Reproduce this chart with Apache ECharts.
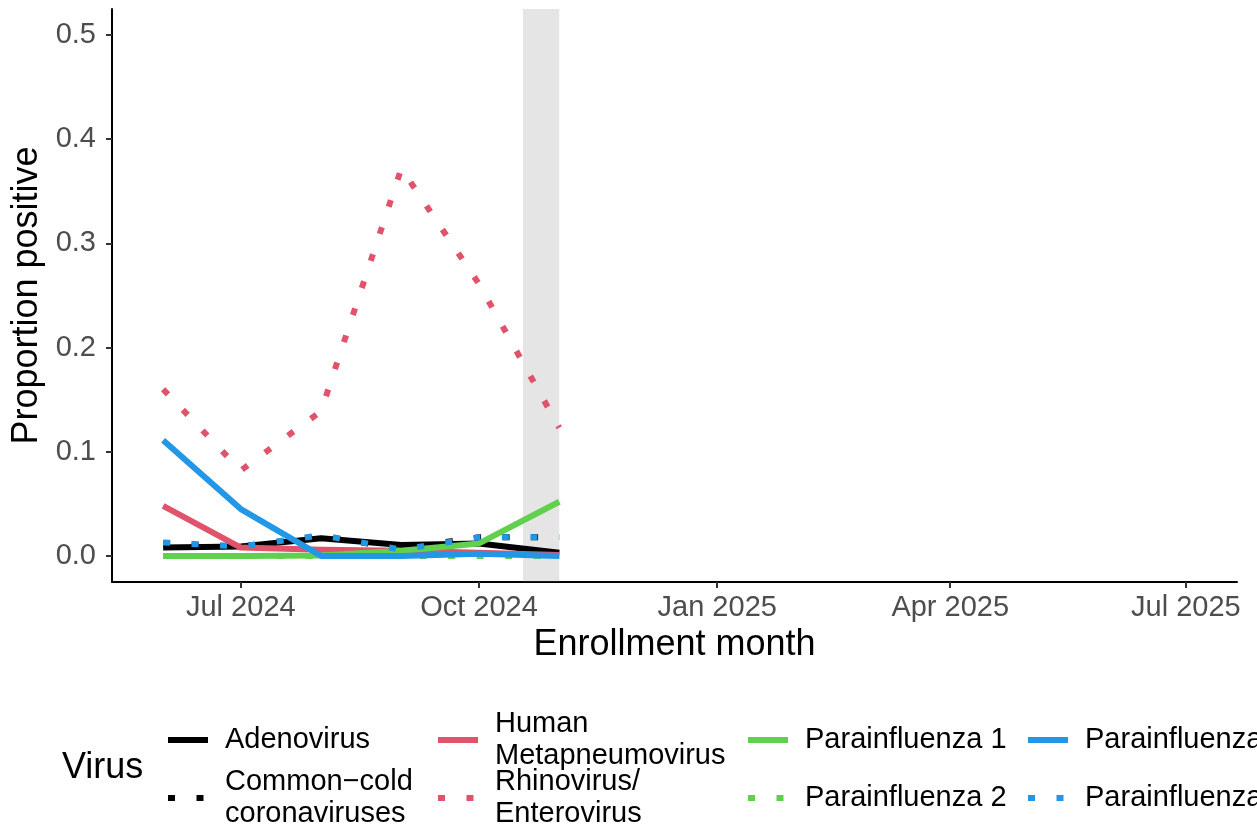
<!DOCTYPE html>
<html>
<head>
<meta charset="utf-8">
<script src="https://cdn.jsdelivr.net/npm/echarts@6/dist/echarts.min.js"></script>
<style>
html,body{margin:0;padding:0;background:#fff;}
#chart{width:1257px;height:831px;}
</style>
</head>
<body>
<div id="chart"></div>
<script>
// ---- data ----
const months = ['2024-06-01','2024-07-01','2024-08-01','2024-09-01','2024-10-01','2024-11-01'];
const adenovirus   = [0.008, 0.009, 0.017, 0.0105, 0.012, 0.003];
const coronavirus  = [0.012, 0.009, 0.019, 0.007, 0.018, 0.018];
const hmpv         = [0.048, 0.008, 0.006, 0.005, 0.003, 0.001];
const rhinovirus   = [0.160, 0.082, 0.139, 0.372, 0.261, 0.123];
const piv1         = [0.000, 0.000, 0.0005, 0.005, 0.012, 0.052];
const piv2         = [0.000, 0.000, 0.000, 0.000, 0.000, 0.000];
const piv3         = [0.111, 0.045, 0.000, 0.000, 0.002, 0.000];
const piv4         = [0.013, 0.009, 0.020, 0.006, 0.018, 0.018];
const seriesNames  = ['Adenovirus','Common\u2212cold\ncoronaviruses','Human\nMetapneumovirus','Rhinovirus/\nEnterovirus','Parainfluenza 1','Parainfluenza 2','Parainfluenza 3','Parainfluenza 4'];
const xTickDates   = ['2024-07-01','2024-10-01','2025-01-01','2025-04-01','2025-07-01'];
const xTickLabels  = ['Jul 2024','Oct 2024','Jan 2025','Apr 2025','Jul 2025'];
const yTicks       = [0.0, 0.1, 0.2, 0.3, 0.4, 0.5];
const xLimits      = ['2024-06-01','2025-07-01'];
const yLimits      = [0, 0.5];
const shadeRange   = ['2024-10-18','2024-11-01'];

// ---- helpers ----
function ts(s){ const p = s.split('-').map(Number); return Date.UTC(p[0], p[1]-1, p[2]); }
const xSpan = ts(xLimits[1]) - ts(xLimits[0]);
const xMin = ts(xLimits[0]) - 0.05*xSpan;
const xMax = ts(xLimits[1]) + 0.05*xSpan;
const ySpan = yLimits[1]-yLimits[0];
const yMin = yLimits[0] - 0.05*ySpan;
const yMax = yLimits[1] + 0.05*ySpan;
const xTickVals = xTickDates.map(ts);

const values = [adenovirus, coronavirus, hmpv, rhinovirus, piv1, piv2, piv3, piv4];
const colors = ['#000000','#000000','#DF536B','#DF536B','#61D04F','#61D04F','#2297E6','#2297E6'];
const dotted = [false,true,false,true,false,true,false,true];
const DASH = [7, 21.5];

const series = values.map((vals, i) => ({
  name: seriesNames[i],
  type: 'line',
  data: months.map((m, j) => [ts(m), vals[j]]),
  showSymbol: false,
  symbol: 'none',
  z: 2,
  lineStyle: { color: colors[i], width: 6, type: dotted[i] ? DASH : 'solid', cap: 'butt', join: 'round' },
  itemStyle: { color: colors[i] },
  emphasis: { disabled: true },
  silent: true
}));
series.push({
  name: 'shade',
  type: 'line',
  data: months.map(m => [ts(m), null]),
  showSymbol: false,
  symbol: 'none',
  z: 5,
  silent: true,
  lineStyle: { width: 0 },
  markArea: {
    silent: true,
    itemStyle: { color: 'rgba(127,127,127,0.2)' },
    data: [[{ xAxis: ts(shadeRange[0]) }, { xAxis: ts(shadeRange[1]) }]]
  }
});

// legend layout: [left of key, vertical centre]
const legendPos = [
  [165, 740], [165, 798], [435, 740], [435, 798],
  [745, 740], [745, 798], [1025, 740], [1025, 798]
];
const LH = 32;
const legends = seriesNames.map((n, i) => {
  const lines = n.split('\n').length;
  return {
    data: [n],
    left: legendPos[i][0],
    top: legendPos[i][1] - lines*LH/2,
    orient: 'horizontal',
    padding: 0,
    itemWidth: 40,
    itemHeight: 14,
    selectedMode: false,
    itemStyle: { opacity: 0 },
    lineStyle: { width: 6, cap: 'butt' },
    textStyle: { fontFamily: 'Liberation Sans', fontSize: 29, color: '#000', lineHeight: LH, padding: [0,0,0,12] }
  };
});

const chart = echarts.init(document.getElementById('chart'), null, { renderer: 'canvas' });
chart.setOption({
  animation: false,
  backgroundColor: '#ffffff',
  textStyle: { fontFamily: 'Liberation Sans' },
  grid: { left: 112, right: 20, top: 9, bottom: 249, containLabel: false },
  xAxis: {
    type: 'value',
    min: xMin, max: xMax,
    name: 'Enrollment month',
    nameLocation: 'middle',
    nameGap: 42,
    nameTextStyle: { fontFamily: 'Liberation Sans', fontSize: 36, color: '#000' },
    axisLine: { show: true, onZero: false, lineStyle: { color: '#000', width: 2 } },
    axisTick: { show: true, customValues: xTickVals, length: 6, lineStyle: { color: '#333', width: 2 } },
    axisLabel: {
      customValues: xTickVals,
      margin: 11,
      fontFamily: 'Liberation Sans', fontSize: 29, color: '#4D4D4D',
      formatter: function(v){ const k = xTickVals.indexOf(v); return k >= 0 ? xTickLabels[k] : ''; }
    },
    splitLine: { show: false }
  },
  yAxis: {
    type: 'value',
    min: yMin, max: yMax,
    name: 'Proportion positive',
    nameLocation: 'middle',
    nameGap: 63,
    nameRotate: 90,
    nameTextStyle: { fontFamily: 'Liberation Sans', fontSize: 36, color: '#000' },
    axisLine: { show: true, onZero: false, lineStyle: { color: '#000', width: 2 } },
    axisTick: { show: true, customValues: yTicks, length: 6, lineStyle: { color: '#333', width: 2 } },
    axisLabel: {
      customValues: yTicks,
      margin: 16,
      fontFamily: 'Liberation Sans', fontSize: 29, color: '#4D4D4D',
      formatter: function(v){ return Number(v).toFixed(1); }
    },
    splitLine: { show: false }
  },
  legend: legends,
  graphic: [{
    type: 'text',
    left: 62, top: 770 - 20,
    style: { text: 'Virus', fontFamily: 'Liberation Sans', fontSize: 36, fill: '#000' }
  }],
  series: series
});
</script>
</body>
</html>
